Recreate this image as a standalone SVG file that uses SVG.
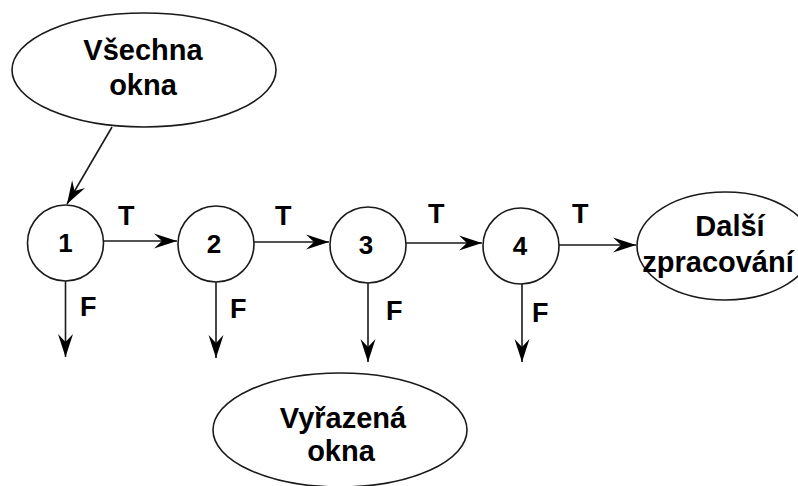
<svg xmlns="http://www.w3.org/2000/svg" width="798" height="486" viewBox="0 0 798 486">
  <style>
    .shape { fill: #ffffff; stroke: #1a1a1a; stroke-width: 1.6; }
    .edge { fill: none; stroke: #1a1a1a; stroke-width: 1.6; marker-end: url(#arrow); }
    .lbl { font-family: "Liberation Sans", Arial, sans-serif; font-weight: bold; fill: #000; }
    .big { font-size: 29px; text-anchor: middle; }
    .num { font-size: 26px; text-anchor: middle; }
    .tf { font-size: 27px; }
  </style>
  <defs>
    <marker id="arrow" markerUnits="userSpaceOnUse" markerWidth="26" markerHeight="18" viewBox="-24 -9 26 18" refX="0" refY="0" orient="auto">
      <path d="M0,0 L-23,-7.5 L-15,0 L-23,7.5 Z" fill="#000"/>
    </marker>
  </defs>

  <!-- connectors -->
  <g id="connectors">
    <line class="edge" x1="112" y1="127" x2="67" y2="204"/>
    <line class="edge" x1="104" y1="241" x2="177" y2="241"/>
    <line class="edge" x1="254" y1="242" x2="329" y2="242"/>
    <line class="edge" x1="406" y1="243" x2="482" y2="243"/>
    <line class="edge" x1="559" y1="245" x2="636" y2="245"/>
    <line class="edge" x1="65.5" y1="281" x2="65.5" y2="357"/>
    <line class="edge" x1="216" y1="282" x2="216" y2="358"/>
    <line class="edge" x1="368" y1="283" x2="368" y2="362"/>
    <line class="edge" x1="522" y1="284" x2="522" y2="362"/>
    <text class="lbl tf" x="118" y="225">T</text>
    <text class="lbl tf" x="275" y="225">T</text>
    <text class="lbl tf" x="428" y="223">T</text>
    <text class="lbl tf" x="572" y="223">T</text>
    <text class="lbl tf" x="80" y="316">F</text>
    <text class="lbl tf" x="230" y="318">F</text>
    <text class="lbl tf" x="386" y="320">F</text>
    <text class="lbl tf" x="532" y="322">F</text>
  </g>

  <g id="all-windows">
    <ellipse class="shape" cx="144" cy="70" rx="132" ry="57"/>
    <text class="lbl big" x="143" y="60">Všechna</text>
    <text class="lbl big" x="143" y="95">okna</text>
  </g>

  <g id="n1">
    <circle class="shape" cx="65.5" cy="243" r="38"/>
    <text class="lbl num" x="65.5" y="252">1</text>
  </g>
  <g id="n2">
    <circle class="shape" cx="216" cy="244" r="38"/>
    <text class="lbl num" x="214" y="253">2</text>
  </g>
  <g id="n3">
    <circle class="shape" cx="368" cy="245" r="38"/>
    <text class="lbl num" x="366" y="254">3</text>
  </g>
  <g id="n4">
    <circle class="shape" cx="521" cy="246" r="38"/>
    <text class="lbl num" x="520" y="255">4</text>
  </g>

  <g id="further-processing">
    <ellipse class="shape" cx="725" cy="246" rx="88" ry="54"/>
    <text class="lbl big" x="730" y="236">Další</text>
    <text class="lbl big" x="718" y="272">zpracování</text>
  </g>

  <g id="rejected-windows">
    <ellipse class="shape" cx="340" cy="430" rx="127" ry="57"/>
    <text class="lbl big" x="343" y="428">Vyřazená</text>
    <text class="lbl big" x="341" y="461">okna</text>
  </g>
</svg>
